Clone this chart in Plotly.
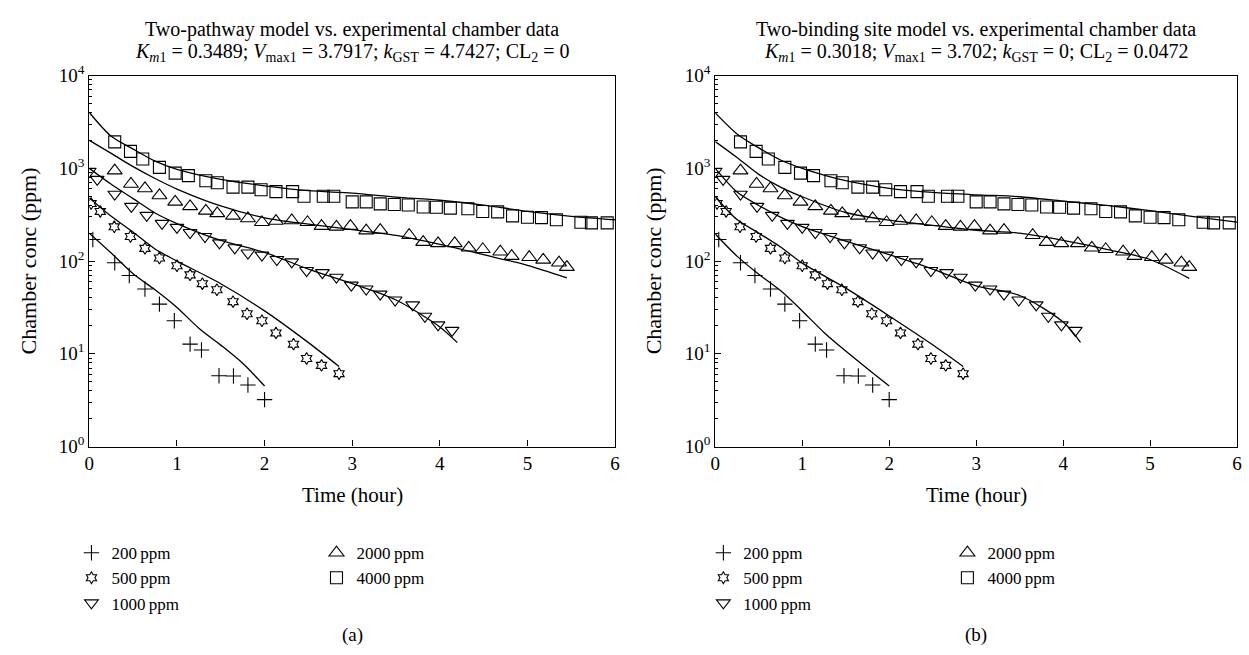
import plotly.graph_objects as go

# ---------------- experimental data (shared by both panels) ----------------
t200 = [0.04, 0.29, 0.456, 0.635, 0.80, 0.97, 1.15, 1.28, 1.48, 1.645, 1.81, 2.0]
v200 = [171, 96, 70, 50, 34.3, 22.7, 12.7, 11.0, 5.8, 5.75, 4.6, 3.2]

t500 = [0.02, 0.125, 0.285, 0.47, 0.635, 0.80, 1.0, 1.15, 1.29, 1.456, 1.64, 1.80,
        1.97, 2.13, 2.33, 2.48, 2.65, 2.85]
v500 = [418, 343, 234, 184, 137, 108, 89, 71, 57, 49, 36.5, 27, 22.7, 16.8, 12.7,
        8.9, 7.5, 6.1]

t1000 = [0, 0.09, 0.29, 0.48, 0.655, 0.83, 1.0, 1.15, 1.32, 1.485, 1.66, 1.81, 1.97,
         2.14, 2.31, 2.48, 2.66, 2.82, 2.99, 3.16, 3.32, 3.49, 3.69, 3.83, 3.98, 4.14]
v1000 = [930, 760, 526, 389, 311, 255, 231, 203, 184, 157, 139, 122, 116, 104, 98,
         79, 75, 67, 55, 50, 44, 38, 33.7, 25.4, 20.5, 17.9]

t2000 = [0.29, 0.475, 0.635, 0.80, 0.98, 1.15, 1.33, 1.46, 1.64, 1.81, 1.97, 2.13,
         2.31, 2.49, 2.65, 2.82, 2.98, 3.16, 3.32, 3.65, 3.81, 3.98, 4.17, 4.33,
         4.49, 4.69, 4.82, 5.02, 5.18, 5.36, 5.45]
v2000 = [946, 678, 607, 510, 435, 389, 348, 327, 307, 288, 262, 270, 274, 262, 238,
         234, 238, 213, 216, 190, 160, 155, 155, 139, 134, 126, 113, 110, 103, 96, 86]

t4000 = [0.29, 0.47, 0.61, 0.80, 0.98, 1.13, 1.33, 1.46, 1.64, 1.81, 1.96, 2.13, 2.32,
         2.45, 2.67, 2.79, 3.00, 3.16, 3.32, 3.48, 3.64, 3.81, 3.96, 4.12, 4.32, 4.49,
         4.66, 4.83, 5.00, 5.16, 5.33, 5.61, 5.73, 5.91]
v4000 = [1930, 1525, 1260, 1024, 888, 834, 734, 700, 627, 627, 588, 561, 561, 500, 500,
         500, 435, 435, 414, 408, 402, 383, 380, 372, 366, 343, 339, 307, 297, 294, 279,
         262, 258, 258]

# ---------------- model curves ----------------
mt200 = [0, 0.25, 0.5, 0.75, 1, 1.25, 1.5, 1.75, 2.0]
ma200 = [200, 122, 73, 49, 31.6, 18.9, 12.4, 7.9, 4.5]
mb200 = [196, 113, 72, 48, 29, 17, 10.7, 6.9, 4.5]

mt500 = [0, 0.25, 0.5, 0.75, 1, 1.5, 2, 2.5, 2.85]
ma500 = [480, 304, 205, 135, 100, 57, 29, 13.2, 7.3]
mb500 = [494, 280, 200, 142, 95, 51, 25.6, 12.5, 7.3]

mt1000 = [0, 0.25, 0.5, 0.75, 1, 1.5, 2, 2.5, 3, 3.5, 4, 4.2]
ma1000 = [1000, 673, 471, 330, 254, 167, 124, 82, 57, 38, 19.5, 13.2]
mb1000 = [1000, 556, 398, 298, 235, 164, 117, 82, 54, 42.5, 22, 13.3]

mt2000 = [0, 0.25, 0.5, 0.75, 1, 1.5, 2, 2.5, 3, 3.5, 4, 4.5, 5, 5.45]
ma2000 = [2000, 1450, 1042, 777, 598, 393, 293, 250, 218, 189, 151, 117, 90, 66]
mb2000 = [1945, 1310, 861, 627, 494, 334, 276, 243, 215, 200, 167, 134, 104, 65]

mt4000 = [0, 0.25, 0.5, 0.75, 1, 1.5, 2, 2.5, 3, 3.5, 4, 4.5, 5, 5.5, 6]
ma4000 = [4000, 2215, 1610, 1195, 975, 760, 648, 574, 540, 490, 453, 402, 343, 304, 279]
mb4000 = [3960, 2350, 1660, 1230, 1000, 735, 608, 550, 518, 494, 443, 398, 349, 302, 263]

series_names = ["200\u2009ppm", "500\u2009ppm", "1000\u2009ppm", "2000\u2009ppm", "4000\u2009ppm"]
x_ticks = [0, 1, 2, 3, 4, 5, 6]
y_tickvals = [1, 10, 100, 1000, 10000]
y_ticktext = ["10<sup>0</sup>", "10<sup>1</sup>", "10<sup>2</sup>", "10<sup>3</sup>", "10<sup>4</sup>"]

FONT = "Liberation Serif"
W, H = 1249, 655

exp_data = [(t200, v200), (t500, v500), (t1000, v1000), (t2000, v2000), (t4000, v4000)]
model_a = [(mt200, ma200), (mt500, ma500), (mt1000, ma1000), (mt2000, ma2000), (mt4000, ma4000)]
model_b = [(mt200, mb200), (mt500, mb500), (mt1000, mb1000), (mt2000, mb2000), (mt4000, mb4000)]
symbols = ["cross-thin-open", "hexagram-open", "triangle-down-open", "triangle-up-open", "square-open"]
sizes = [11, 9, 12, 13, 12]

fig = go.Figure()

for panel, models, xa, ya, legs in [
    ("a", model_a, "x", "y", ["legend", "legend", "legend", "legend2", "legend2"]),
    ("b", model_b, "x2", "y2", ["legend3", "legend3", "legend3", "legend4", "legend4"]),
]:
    for (mt, mv) in models:
        fig.add_trace(go.Scatter(x=mt, y=mv, mode="lines", xaxis=xa, yaxis=ya,
                                 line=dict(color="black", width=1.3, shape="spline", smoothing=0.8),
                                 showlegend=False, hoverinfo="skip"))
    for i, (tt, vv) in enumerate(exp_data):
        fig.add_trace(go.Scatter(x=tt, y=vv, mode="markers", xaxis=xa, yaxis=ya,
                                 name=series_names[i], legend=legs[i],
                                 marker=dict(symbol=symbols[i], size=sizes[i], color="black",
                                             line=dict(color="black", width=1.1))))

def px_x(p):
    return p / W

def px_y(p):
    return 1 - p / H

top, bottom = 65, 450
axis_common = dict(showline=True, linecolor="black", linewidth=1.2, mirror=True,
                   showgrid=False, zeroline=False, ticks="inside", ticklen=6,
                   tickcolor="black", tickfont=dict(family=FONT, size=19, color="black"))

xdomA = [px_x(85), px_x(615)]
xdomB = [px_x(716), px_x(1242)]
ydom = [px_y(bottom), px_y(top)]

xaxis_cfg = dict(range=[0, 6], tickvals=x_ticks, ticktext=[str(v) for v in x_ticks], **axis_common)
yaxis_cfg = dict(type="log", range=[0, 4], tickvals=y_tickvals, ticktext=y_ticktext,
                 minor=dict(ticks="inside", ticklen=3, tickcolor="black", dtick="D1", showgrid=False),
                 **axis_common)

legend_common = dict(font=dict(family=FONT, size=17, color="black"), bgcolor="rgba(0,0,0,0)",
                     xanchor="left", yanchor="top", tracegroupgap=0, itemwidth=30,
                     orientation="v")

fig.update_layout(
    width=W, height=H, margin=dict(l=0, r=0, t=0, b=0),
    paper_bgcolor="white", plot_bgcolor="white",
    font=dict(family=FONT, size=18, color="black"),
    xaxis=dict(domain=xdomA, anchor="y", **xaxis_cfg),
    yaxis=dict(domain=ydom, anchor="x", **yaxis_cfg),
    xaxis2=dict(domain=xdomB, anchor="y2", **xaxis_cfg),
    yaxis2=dict(domain=ydom, anchor="x2", **yaxis_cfg),
    legend=dict(x=px_x(67), y=px_y(542), **legend_common),
    legend2=dict(x=px_x(314), y=px_y(542), **legend_common),
    legend3=dict(x=px_x(704), y=px_y(542), **legend_common),
    legend4=dict(x=px_x(950), y=px_y(542), **legend_common),
    showlegend=True,
)

def ann(text, x, y, size=18, angle=0, xanchor="center"):
    fig.add_annotation(text=text, x=px_x(x), y=px_y(y), xref="paper", yref="paper",
                       showarrow=False, textangle=angle, xanchor=xanchor, yanchor="middle",
                       font=dict(family=FONT, size=size, color="black"))

titles = [
    ("Two-pathway model vs. experimental chamber data",
     "<i>K</i><sub><i>m</i>1</sub> = 0.3489; <i>V</i><sub>max1</sub> = 3.7917; "
     "<i>k</i><sub>GST</sub> = 4.7427; CL<sub>2</sub> = 0", 350, "(a)"),
    ("Two-binding site model vs. experimental chamber data",
     "<i>K</i><sub><i>m</i>1</sub> = 0.3018; <i>V</i><sub>max1</sub> = 3.702; "
     "<i>k</i><sub>GST</sub> = 0; CL<sub>2</sub> = 0.0472", 979, "(b)"),
]
for line1, line2, cx, lab in titles:
    ann(line1, cx, 17, size=20)
    ann(line2, cx, 41, size=20)
    ann("Time (hour)", cx, 500, size=21)
    ann(lab, cx, 646, size=19)

ann("Chamber conc (ppm)", 24, 257, size=22, angle=-90)
ann("Chamber conc (ppm)", 654, 257, size=22, angle=-90)

fig.write_html("out.html")
